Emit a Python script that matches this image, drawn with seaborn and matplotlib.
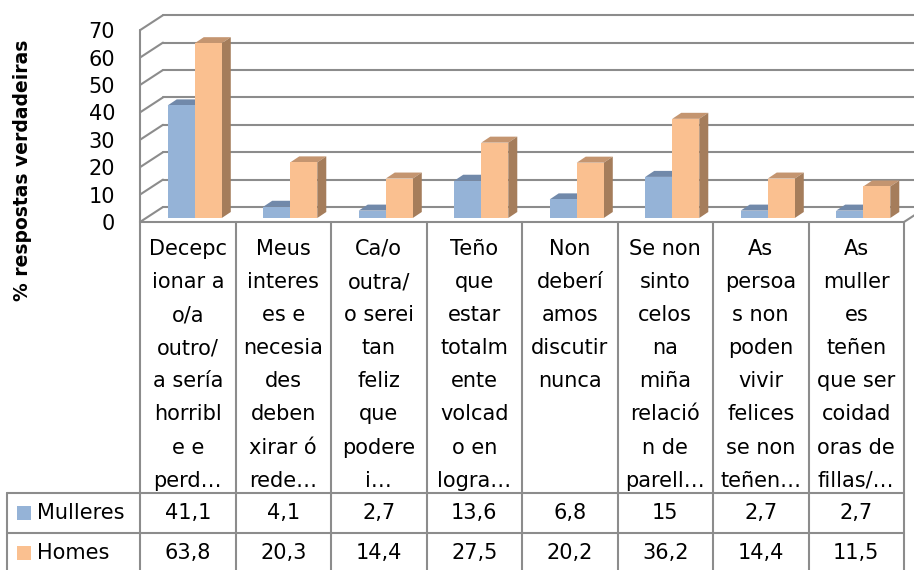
import matplotlib
matplotlib.use("Agg")
import matplotlib.pyplot as plt
from matplotlib.patches import Polygon, Rectangle
from matplotlib.transforms import offset_copy
import pandas as pd
import seaborn as sns

# datos
categorias = [
    "Decepc\nionar a\no/a\noutro/\na sería\nhorribl\ne e\nperd…",
    "Meus\ninteres\nes e\nnecesia\ndes\ndeben\nxirar ó\nrede…",
    "Ca/o\noutra/\no serei\ntan\nfeliz\nque\npodere\ni…",
    "Teño\nque\nestar\ntotalm\nente\nvolcad\no en\nlogra…",
    "Non\ndeberí\namos\ndiscutir\nnunca",
    "Se non\nsinto\ncelos\nna\nmiña\nrelació\nn de\nparell…",
    "As\npersoa\ns non\npoden\nvivir\nfelices\nse non\nteñen…",
    "As\nmuller\nes\nteñen\nque ser\ncoidad\noras de\nfillas/…",
]
mulleres = [41.1, 4.1, 2.7, 13.6, 6.8, 15, 2.7, 2.7]
homes = [63.8, 20.3, 14.4, 27.5, 20.2, 36.2, 14.4, 11.5]
series = ["Mulleres", "Homes"]
yticks = [0, 10, 20, 30, 40, 50, 60, 70]

cores = {"Mulleres": "#95B3D7", "Homes": "#FAC090"}
cor_tapa = {"Mulleres": "#7189AA", "Homes": "#C49570"}
cor_lado = {"Mulleres": "#6A82A2", "Homes": "#A57D5B"}
gris = "#8C8C8C"

sns.set_style("white")
plt.rcParams["font.family"] = ["DejaVu Sans"]
plt.rcParams["text.color"] = "black"
plt.rcParams["ytick.color"] = "black"

W, H = 914, 570
fig = plt.figure(figsize=(W / 100, H / 100), dpi=100)

# xeometría (px)
x0_px, x1_px = 140, 904
base_px, top_px = 222, 5
px_y = 2.74
px_x = (x1_px - x0_px) / len(categorias)
fs = 15

ax = fig.add_axes([x0_px / W, (H - base_px) / H, (x1_px - x0_px) / W, (base_px - top_px) / H])

df = pd.DataFrame({
    "cat": [str(i) for i in range(len(categorias))] * 2,
    "grupo": ["Mulleres"] * len(mulleres) + ["Homes"] * len(homes),
    "valor": mulleres + homes,
})
sns.barplot(data=df, x="cat", y="valor", hue="grupo", hue_order=series,
            palette=[cores[s] for s in series], width=0.566, dodge=True,
            saturation=1, legend=False, ax=ax, err_kws={"linewidth": 0})

ax.set_xlim(-0.5, len(categorias) - 0.5)
ax.set_ylim(0, (base_px - top_px) / px_y)
ax.set_xlabel("")
ax.set_ylabel("")
ax.set_xticks([])
ax.set_yticks(yticks)
ax.tick_params(axis="y", length=0, pad=18, labelsize=fs, labelcolor="black")
for s in ax.spines.values():
    s.set_visible(False)
ax.patch.set_alpha(0)

# barras 3D
tr_barra = offset_copy(ax.transData, fig=fig, x=7, y=4, units="dots")
ddx, ddy = 9 / px_x, 6 / px_y
n = len(categorias)
for k, p in enumerate(ax.patches[: 2 * n]):
    grupo = series[k // n]
    z = 3 if grupo == "Mulleres" else 5
    p.set_transform(tr_barra)
    p.set_linewidth(0)
    p.set_zorder(z)
    xa, w, h = p.get_x(), p.get_width(), p.get_height()
    tapa = Polygon([(xa, h), (xa + w, h), (xa + w + ddx, h + ddy), (xa + ddx, h + ddy)],
                   closed=True, facecolor=cor_tapa[grupo], lw=0, transform=tr_barra, zorder=z - 0.5)
    lado = Polygon([(xa + w, 0), (xa + w + ddx, ddy), (xa + w + ddx, h + ddy), (xa + w, h)],
                   closed=True, facecolor=cor_lado[grupo], lw=0, transform=tr_barra, zorder=z - 0.5)
    ax.add_patch(tapa)
    ax.add_patch(lado)

# paredes
DX, DY = 23 / px_x, 15 / px_y
xl = -0.5
xr = n - 0.5
lw = 1.5
for v in yticks:
    ax.plot([xl, xl + DX], [v, v + DY], color=gris, lw=lw, clip_on=False, zorder=1)
    ax.plot([xl + DX, xr + 0.5], [v + DY, v + DY], color=gris, lw=lw, clip_on=False, zorder=1)
ax.plot([xl, xl], [0, yticks[-1]], color=gris, lw=lw, clip_on=False, zorder=1)
ax.plot([xl, xr], [0, 0], color=gris, lw=lw, clip_on=False, zorder=1)
ax.plot([xr, xr + DX], [0, DY], color=gris, lw=lw, clip_on=False, zorder=1)

# título do eixo
fig.text(23 / W, 1 - 170 / H, "% respostas verdadeiras", rotation=90, fontsize=13.5,
         fontweight="bold", ha="center", va="center")

# táboa de datos
tab = fig.add_axes([0, 0, 1, 1])
tab.set_xlim(0, W)
tab.set_ylim(H, 0)
tab.axis("off")
tab.patch.set_alpha(0)

fila1, fila2, fila_fin = 493, 533, 575
for k in range(n + 1):
    xv = x0_px + k * px_x
    tab.plot([xv, xv], [base_px, fila_fin], color=gris, lw=lw)
tab.plot([7, 7], [fila1, fila_fin], color=gris, lw=lw)
for yy in (fila1, fila2):
    tab.plot([7, x1_px], [yy, yy], color=gris, lw=lw)

for i, cat in enumerate(categorias):
    xc = x0_px + (i + 0.5) * px_x
    for j, linha in enumerate(cat.split("\n")):
        tab.text(xc, 249 + 33.1 * j, linha, ha="center", va="center", fontsize=fs)
    for yy, vals in ((513, mulleres), (553, homes)):
        tab.text(xc, yy, f"{vals[i]:g}".replace(".", ","), ha="center", va="center", fontsize=fs)

for yy, s in ((513, "Mulleres"), (553, "Homes")):
    tab.add_patch(Rectangle((17, yy - 7), 14, 14, facecolor=cores[s], lw=0))
    tab.text(37, yy, s, ha="left", va="center", fontsize=fs)

fig.savefig("out.png", dpi=100)
